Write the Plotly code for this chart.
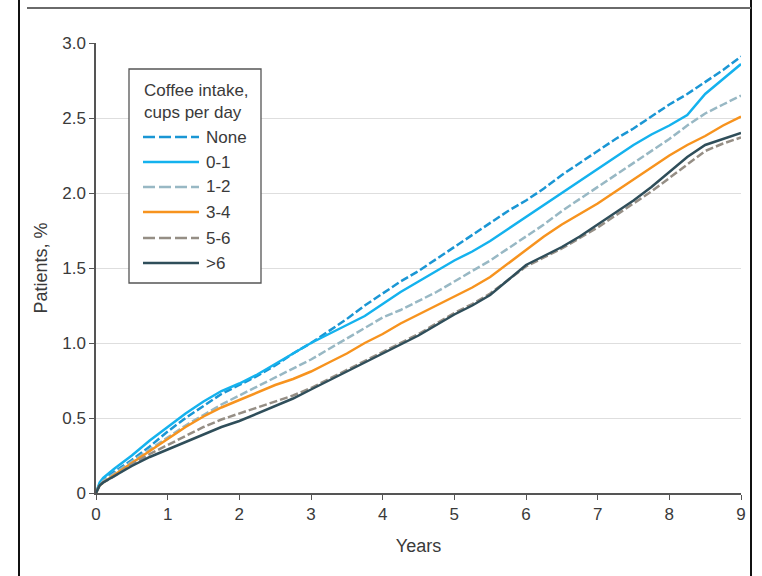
import plotly.graph_objects as go

# ---------------- data ----------------
years = [0, 0.05, 0.1, 0.25, 0.5, 0.75, 1, 1.25, 1.5, 1.75, 2, 2.25, 2.5, 2.75, 3, 3.25, 3.5, 3.75,
         4, 4.25, 4.5, 4.75, 5, 5.25, 5.5, 5.75, 6, 6.25, 6.5, 6.75, 7, 7.25, 7.5, 7.75, 8, 8.25,
         8.5, 8.75, 9]

none_vals = [0, .06, .09, .14, .22, .31, .41, .50, .58, .66, .72, .78, .85, .93, 1.00, 1.08, 1.16, 1.25,
             1.33, 1.41, 1.48, 1.56, 1.64, 1.72, 1.80, 1.88, 1.95, 2.03, 2.12, 2.20, 2.28, 2.36, 2.43, 2.51,
             2.59, 2.66, 2.74, 2.82, 2.91]
c01_vals = [0, .07, .10, .16, .25, .35, .44, .53, .61, .68, .73, .79, .86, .93, 1.00, 1.06, 1.12, 1.18,
            1.26, 1.34, 1.41, 1.48, 1.55, 1.61, 1.68, 1.76, 1.84, 1.92, 2.00, 2.08, 2.16, 2.24, 2.32, 2.39,
            2.45, 2.52, 2.66, 2.76, 2.86]
c12_vals = [0, .05, .08, .13, .21, .29, .37, .45, .52, .59, .65, .71, .77, .83, .89, .96, 1.03, 1.10,
            1.17, 1.22, 1.28, 1.34, 1.41, 1.48, 1.55, 1.63, 1.71, 1.79, 1.88, 1.96, 2.04, 2.12, 2.20, 2.28,
            2.36, 2.45, 2.53, 2.59, 2.65]
c34_vals = [0, .05, .07, .12, .20, .28, .36, .44, .51, .57, .62, .67, .72, .76, .81, .87, .93, 1.00,
            1.06, 1.13, 1.19, 1.25, 1.31, 1.37, 1.44, 1.53, 1.62, 1.71, 1.79, 1.86, 1.93, 2.01, 2.09, 2.17,
            2.25, 2.32, 2.38, 2.45, 2.51]
c56_vals = [0, .05, .07, .11, .19, .26, .32, .38, .44, .49, .53, .57, .61, .65, .70, .76, .82, .88,
            .94, 1.00, 1.06, 1.13, 1.20, 1.26, 1.33, 1.42, 1.51, 1.57, 1.63, 1.70, 1.77, 1.85, 1.93, 2.01,
            2.10, 2.19, 2.28, 2.33, 2.37]
c6p_vals = [0, .05, .07, .11, .18, .24, .29, .34, .39, .44, .48, .53, .58, .63, .69, .75, .81, .87,
            .93, .99, 1.05, 1.12, 1.19, 1.25, 1.32, 1.42, 1.52, 1.58, 1.64, 1.71, 1.79, 1.87, 1.95, 2.04,
            2.14, 2.24, 2.32, 2.36, 2.40]

series_names = ["None", "0-1", "1-2", "3-4", "5-6", ">6"]
series_vals = [none_vals, c01_vals, c12_vals, c34_vals, c56_vals, c6p_vals]
series_colors = ["#1a96d4", "#14b2ee", "#98b8c4", "#f7931e", "#958e85", "#2f4e5a"]
series_dash = ["8px,3px", "solid", "8px,3px", "solid", "8px,3px", "solid"]

x_ticks = [0, 1, 2, 3, 4, 5, 6, 7, 8, 9]
y_ticks = [0, 0.5, 1.0, 1.5, 2.0, 2.5, 3.0]
y_ticktext = ["0", "0.5", "1.0", "1.5", "2.0", "2.5", "3.0"]

legend_title = "Coffee intake,<br>cups per day"

# ---------------- figure ----------------
W, H = 762, 576
L, R, T, B = 96, 21, 43, 83
PW, PH = W - L - R, H - T - B
FONT = "Liberation Sans, Arial, sans-serif"
TXT = "#3a3a3a"


def px(x):
    return (x - L) / PW


def py(y):
    return (H - B - y) / PH


fig = go.Figure()
for name, vals, col, dash in zip(series_names, series_vals, series_colors, series_dash):
    fig.add_trace(go.Scatter(x=years, y=vals, mode="lines", name=name,
                             line=dict(color=col, width=2.5, dash=dash),
                             showlegend=False))

shapes = []
annotations = []

# manual legend box
shapes.append(dict(type="rect", xref="paper", yref="paper",
                   x0=px(129), x1=px(261), y0=py(283), y1=py(69),
                   line=dict(color="#555555", width=1.3), fillcolor="white", layer="above"))
annotations.append(dict(xref="paper", yref="paper", x=px(142), y=py(102), xanchor="left",
                        yanchor="middle", text=legend_title, showarrow=False, align="left",
                        font=dict(family=FONT, size=17, color=TXT)))
item_y = [137, 162, 187, 212, 238, 263]
for name, col, dash, yy in zip(series_names, series_colors, series_dash, item_y):
    shapes.append(dict(type="line", xref="paper", yref="paper", x0=px(143), x1=px(199),
                       y0=py(yy), y1=py(yy), layer="above",
                       line=dict(color=col, width=2.5,
                                 dash="12px,4px" if dash != "solid" else "solid")))
    annotations.append(dict(xref="paper", yref="paper", x=px(204), y=py(yy), xanchor="left",
                            yanchor="middle", text=name, showarrow=False,
                            font=dict(family=FONT, size=17, color=TXT)))

# frame lines of the page
shapes.append(dict(type="line", xref="paper", yref="paper", x0=px(19), x1=px(19), y0=py(0), y1=py(576),
                   line=dict(color="#111111", width=2)))
shapes.append(dict(type="line", xref="paper", yref="paper", x0=px(751), x1=px(751), y0=py(0), y1=py(576),
                   line=dict(color="#111111", width=2)))
shapes.append(dict(type="line", xref="paper", yref="paper", x0=px(27), x1=px(751), y0=py(8), y1=py(8),
                   line=dict(color="#6a6a6a", width=2)))

fig.update_layout(
    width=W, height=H,
    margin=dict(l=L, r=R, t=T, b=B, autoexpand=False),
    paper_bgcolor="white", plot_bgcolor="white",
    font=dict(family=FONT, size=17, color=TXT),
    showlegend=False,
    shapes=shapes, annotations=annotations,
    xaxis=dict(range=[0, 9], tickvals=x_ticks, ticks="outside", ticklen=5, tickwidth=1.2,
               tickcolor="#555555", showline=True, linecolor="#555555", linewidth=1.5,
               showgrid=False, zeroline=False, fixedrange=True,
               tickfont=dict(family=FONT, size=17, color=TXT),
               title=dict(text="Years", font=dict(family=FONT, size=18, color=TXT), standoff=16)),
    yaxis=dict(range=[0, 3], tickvals=y_ticks, ticktext=y_ticktext, ticks="outside", ticklen=5,
               tickwidth=1.2, tickcolor="#555555", showline=True, linecolor="#555555", linewidth=1.5,
               showgrid=True, gridcolor="#dedede", gridwidth=1.3, zeroline=False, fixedrange=True,
               tickfont=dict(family=FONT, size=17, color=TXT),
               title=dict(text="Patients, %", font=dict(family=FONT, size=18, color=TXT), standoff=10)),
)

fig.write_html("out.html")
